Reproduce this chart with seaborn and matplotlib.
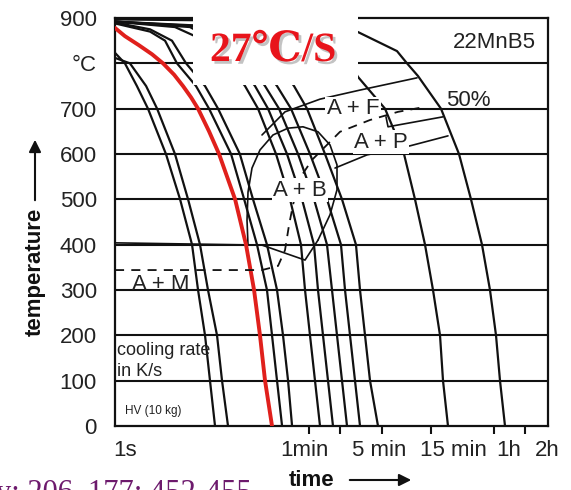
import matplotlib
matplotlib.use('Agg')
import matplotlib.pyplot as plt
import matplotlib.patheffects as pe
from matplotlib.patches import Rectangle
from matplotlib.ticker import NullLocator
import pandas as pd
import seaborn as sns

# ---------------- data (time in s, temperature in degC) ----------------
T_A1 = [823, 800, 750, 700, 600, 500, 400, 300, 200, 100, 0]
t_A1 = [0.82, 1.02, 1.33, 1.70, 2.53, 3.46, 4.51, 5.15, 6.01, 6.71, 7.50]
T_A2 = [812, 800, 750, 700, 600, 500, 400, 300, 200, 100, 0]
t_A2 = [0.82, 1.14, 1.63, 2.08, 3.09, 4.13, 5.38, 6.42, 7.84, 8.76, 10.0]

T_red = [878, 860, 840, 820, 800, 775, 750, 725, 700, 650, 600, 500, 400, 300, 200, 100, 0]
t_red = [0.82, 1.02, 1.39, 1.86, 2.37, 3.03, 3.69, 4.41, 5.15, 6.57, 8.20, 11.7, 14.9,
         17.8, 20.3, 22.7, 26.5]

T_B1 = [888, 870, 850, 800, 750, 700, 600, 500, 400, 300, 200, 100, 0]
t_B1 = [0.82, 1.78, 2.48, 3.23, 4.92, 6.57, 10.7, 14.3, 19.0, 23.7, 26.5, 29.6, 33.1]
T_B2 = [890, 875, 850, 800, 750, 700, 600, 500, 400, 300, 200, 100, 0]
t_B2 = [0.82, 1.78, 2.89, 3.95, 6.01, 8.02, 13.0, 17.4, 23.7, 29.6, 33.8, 37.8, 41.3]

T_C = [892, 880, 850, 800, 750, 700, 600, 500, 400, 300, 200, 100, 0]
t_C1 = [0.82, 3.09, 6.01, 10.0, 14.57, 19.44, 28.94, 39.47, 50.3, 55.02, 61.43, 68.62, 76.67]
t_C2 = [0.82, 4.31, 7.50, 12.48, 18.18, 24.25, 36.92, 51.47, 67.1, 73.34, 81.93, 91.53, 102.2]
t_C3 = [0.82, 6.01, 10.0, 15.92, 22.69, 30.94, 47.12, 67.14, 89.5, 100.0, 111.7, 124.8, 139.4]
t_C4 = [0.82, 7.50, 13.04, 20.31, 29.60, 40.35, 61.43, 89.53, 122.0, 133.4, 149.0, 166.4, 185.9]
t_C5 = [0.82, 10.45, 19.44, 30.26, 43.12, 57.52, 85.63, 124.8, 170.0, 185.9, 207.7, 232.0, 276.9]

T_15 = [897, 895, 890, 870, 800, 770, 700, 600, 500, 400, 300, 200, 100, 0]
t_15 = [0.82, 5.38, 20.31, 76.67, 149.0, 177.8, 323.4, 492.4, 628.3, 784.0, 935.8, 1093, 1168, 1304]

T_1h = [898, 897, 893, 880, 869, 827, 800, 772, 700, 600, 500, 400, 300, 200, 100, 0]
t_1h = [0.82, 5.38, 31.62, 95.68, 177.8, 421.7, 526.3, 671.4, 1117, 1664, 2171, 2769, 3305,
        3776, 4125, 4608]

# phase boundaries
T_bain_low = [404, 399, 366, 410]
t_bain_low = [0.82, 21.23, 55.02, 73.34]
T_bain = [410, 466, 521, 576, 620, 649, 660, 657, 642, 609, 569, 516, 454, 399]
t_bain = [73.34, 95.68, 111.7, 111.7, 95.68, 73.34, 52.63, 37.76, 27.08, 20.31, 17.01, 15.57,
          15.23, 15.57]
T_ferr = [642, 693, 721, 741, 768]
t_ferr = [21.23, 35.33, 76.67, 185.9, 656.7]
T_pearl1 = [682, 660, 682]
t_pearl1 = [330.5, 345.6, 1168]
T_pearl2 = [569, 598, 618, 640]
t_pearl2 = [106.9, 217.0, 562.3, 1304]
T_50 = [344, 344, 353, 388, 443, 488, 547, 587, 649, 675, 693, 704]
t_50 = [0.82, 21.23, 30.26, 35.33, 38.60, 42.17, 49.24, 64.22, 119.4, 232.0, 431.2, 784.0]

grid_T = [100, 200, 300, 400, 500, 600, 700, 800]
y_ticks = [0, 100, 200, 300, 400, 500, 600, 700, 800, 900]
y_labels = ['0', '100', '200', '300', '400', '500', '600', '700', '°C', '900']
x_ticks = [1, 60, 120, 300, 900, 3600, 7200]
x_labels = ['1s', '1min', '5 min', '15 min', '1h', '2h']
x_label_px = [125, 304, 379, 453, 509, 547]   # label centres as printed

# ---------------- figure ----------------
sns.set_theme(style='white')
plt.rcParams['font.family'] = ['Liberation Sans', 'DejaVu Sans']

W, H = 571, 490
fig = plt.figure(figsize=(W / 100, H / 100), dpi=100)
fig.patch.set_facecolor('white')
ax = fig.add_axes([115 / W, 1 - 426 / H, 433 / W, 408 / H])
ax.set_facecolor('white')
ax.set_xscale('log')

INK = '#111111'


def draw(t, T, color=INK, lw=1.6, ls='-', z=2):
    df = pd.DataFrame({'t': t, 'T': T})
    sns.lineplot(data=df, x='t', y='T', sort=False, estimator=None,
                 color=color, linewidth=lw, linestyle=ls, ax=ax, zorder=z)


for T in grid_T:
    ax.axhline(T, color=INK, lw=1.5, zorder=1)

for t, T in [(t_A1, T_A1), (t_A2, T_A2), (t_B1, T_B1), (t_B2, T_B2),
             (t_C1, T_C), (t_C2, T_C), (t_C3, T_C), (t_C4, T_C), (t_C5, T_C),
             (t_15, T_15), (t_1h, T_1h)]:
    draw(t, T, lw=1.6)

draw(t_bain_low, T_bain_low, lw=1.2)
draw(t_bain, T_bain, lw=1.2)
draw(t_ferr, T_ferr, lw=1.2)
draw(t_pearl1, T_pearl1, lw=1.2)
draw(t_pearl2, T_pearl2, lw=1.2)
draw(t_50, T_50, lw=1.3, ls=(0, (5, 4)), z=6)
draw(t_red, T_red, color='#e0201c', lw=2.8, z=4)

ax.set_xlim(0.819, 11940)
ax.set_ylim(0, 900)
ax.set_xlabel('')
ax.set_ylabel('')
ax.set_yticks(y_ticks)
ax.set_yticklabels(y_labels)
ax.set_xticks(x_ticks)
ax.set_xticklabels([''] * len(x_ticks))
ax.xaxis.set_minor_locator(NullLocator())
ax.tick_params(axis='y', length=0, pad=13, labelsize=16, labelcolor='#222222')
ax.tick_params(axis='x', direction='out', length=6, width=1.5, color=INK, bottom=True)
ax.xaxis.get_major_ticks()[0].tick1line.set_visible(False)
for s in ax.spines.values():
    s.set_visible(True)
    s.set_color(INK)
    s.set_linewidth(1.6)


def P(x, y):
    return (x / W, 1 - y / H)


tf = fig.transFigure
for lbl, xp in zip(x_labels, x_label_px):
    fig.text(*P(xp, 450), lbl, fontsize=16, color='#222222', ha='center', va='center')

lab = dict(fontsize=16, color='#222222', ha='center', va='center', transform=tf)
ax.text(*P(494, 42), '22MnB5', **lab)
ax.text(*P(468, 100), '50%', **lab)
ax.text(*P(353, 109), 'A + F', zorder=5,
        bbox=dict(facecolor='white', edgecolor='none', pad=1), **lab)
ax.text(*P(381, 142), 'A + P', zorder=7,
        bbox=dict(facecolor='white', edgecolor='none', pad=1), **lab)
ax.text(*P(300, 190), 'A + B', zorder=7,
        bbox=dict(facecolor='white', edgecolor='none', pad=1), **lab)
ax.text(*P(161, 284), 'A + M', zorder=5, **lab)
ax.text(*P(117, 342), 'cooling rate\nin K/s', fontsize=13, color='#222222',
        ha='left', va='top', linespacing=1.3, transform=tf)
ax.text(*P(125, 411), 'HV (10 kg)', fontsize=8.5, color='#222222',
        ha='left', va='center', transform=tf)

# axis titles with arrows
fig.text(*P(35, 272), 'temperature', rotation=90, fontsize=16,
         fontweight='bold', ha='center', va='center', color=INK)
fig.text(*P(312, 480), 'time', fontsize=16, fontweight='bold',
         ha='center', va='center', color=INK)
ax.annotate('', xy=P(35, 137), xytext=P(35, 203), xycoords='figure fraction',
            textcoords='figure fraction',
            arrowprops=dict(arrowstyle='-|>', color=INK, lw=1.5, mutation_scale=18))
ax.annotate('', xy=P(414, 480), xytext=P(347, 480), xycoords='figure fraction',
            textcoords='figure fraction',
            arrowprops=dict(arrowstyle='-|>', color=INK, lw=1.5, mutation_scale=18))

# white label box with the cooling-rate note
fig.patches.append(Rectangle(P(193, 85), 165 / W, 78 / H, transform=tf,
                             facecolor='white', edgecolor='none', zorder=10))
fig.text(*P(273, 51), '27℃/S', color='#e8141b', fontsize=30, fontweight='bold',
         family=['Liberation Serif', 'DejaVu Serif', 'Noto Sans CJK SC'],
         ha='center', va='center', zorder=11,
         path_effects=[pe.withSimplePatchShadow(offset=(2, -2),
                                                shadow_rgbFace='#888888', alpha=0.5)])

# cut-off reference line at the bottom
fig.text(-4 / W, 1 - 479 / H, 'y: 206, 177; 452-455', fontsize=22,
         color='#6d1a6d', family=['Liberation Serif', 'DejaVu Serif'],
         ha='left', va='top')

fig.savefig('out.png', dpi=100)
